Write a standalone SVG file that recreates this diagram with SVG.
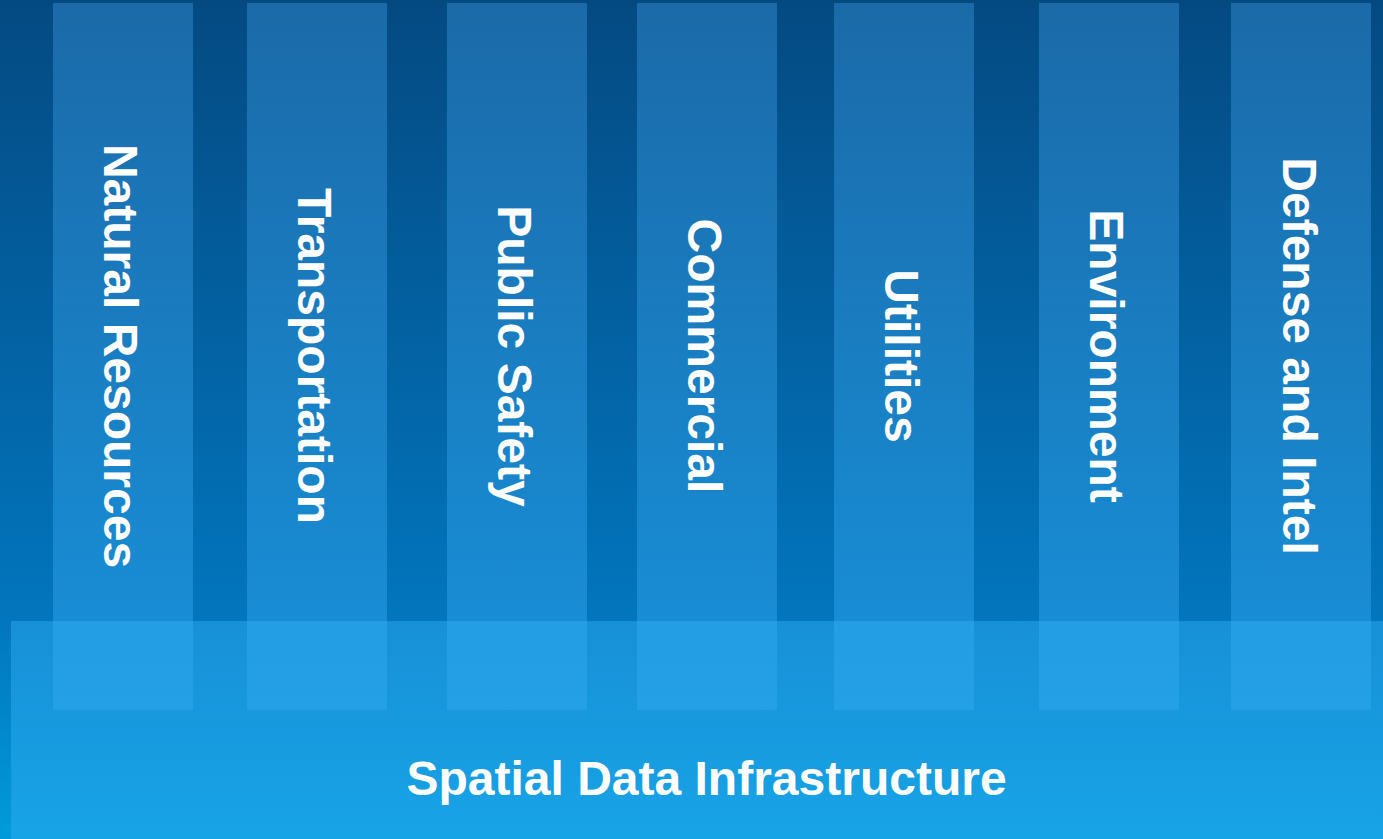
<svg xmlns="http://www.w3.org/2000/svg" width="1383" height="839" viewBox="0 0 1383 839">
<defs>
<linearGradient id="bg" x1="0" y1="0" x2="0" y2="839" gradientUnits="userSpaceOnUse">
<stop offset="0" stop-color="#04487e"/>
<stop offset="0.004" stop-color="#044a82"/>
<stop offset="0.74" stop-color="#0276be"/>
<stop offset="1" stop-color="#009bda"/>
</linearGradient>
<linearGradient id="col" x1="0" y1="3" x2="0" y2="621" gradientUnits="userSpaceOnUse">
<stop offset="0" stop-color="#1b6aa8"/>
<stop offset="1" stop-color="#188dd5"/>
</linearGradient>
<linearGradient id="band" x1="0" y1="621" x2="0" y2="839" gradientUnits="userSpaceOnUse">
<stop offset="0" stop-color="#1890d8"/>
<stop offset="1" stop-color="#17a4e6"/>
</linearGradient>
<linearGradient id="over" x1="0" y1="621" x2="0" y2="710" gradientUnits="userSpaceOnUse">
<stop offset="0" stop-color="#239de4"/>
<stop offset="1" stop-color="#24a0e6"/>
</linearGradient>
</defs>
<style>
.col{fill:url(#col)}
.ov{fill:url(#over)}
.lbl{font-family:"Liberation Sans",Arial,sans-serif;font-weight:bold;font-size:48px;fill:#ffffff;text-anchor:middle}
</style>
<rect x="0" y="0" width="1383" height="839" fill="url(#bg)"/>
<g id="band-sdi">
<rect x="11" y="621" width="1372" height="218" fill="url(#band)"/>
<text class="lbl" x="706.5" y="795">Spatial Data Infrastructure</text>
</g>
<g id="col-natural-resources">
<rect class="col" x="53" y="3" width="140" height="618"/>
<rect class="ov" x="53" y="621" width="140" height="89"/>
<text class="lbl" transform="translate(104,356) rotate(90)">Natural Resources</text>
</g>
<g id="col-transportation">
<rect class="col" x="247" y="3" width="140" height="618"/>
<rect class="ov" x="247" y="621" width="140" height="89"/>
<text class="lbl" transform="translate(298,356) rotate(90)">Transportation</text>
</g>
<g id="col-public-safety">
<rect class="col" x="447" y="3" width="140" height="618"/>
<rect class="ov" x="447" y="621" width="140" height="89"/>
<text class="lbl" transform="translate(498,356) rotate(90)">Public Safety</text>
</g>
<g id="col-commercial">
<rect class="col" x="637" y="3" width="140" height="618"/>
<rect class="ov" x="637" y="621" width="140" height="89"/>
<text class="lbl" transform="translate(688,356) rotate(90)">Commercial</text>
</g>
<g id="col-utilities">
<rect class="col" x="834" y="3" width="140" height="618"/>
<rect class="ov" x="834" y="621" width="140" height="89"/>
<text class="lbl" transform="translate(885,356) rotate(90)">Utilities</text>
</g>
<g id="col-environment">
<rect class="col" x="1039" y="3" width="140" height="618"/>
<rect class="ov" x="1039" y="621" width="140" height="89"/>
<text class="lbl" transform="translate(1090,356) rotate(90)">Environment</text>
</g>
<g id="col-defense-intel">
<rect class="col" x="1231" y="3" width="140" height="618"/>
<rect class="ov" x="1231" y="621" width="140" height="89"/>
<text class="lbl" transform="translate(1283,356) rotate(90)">Defense and Intel</text>
</g>
<g id="connectors"/>
</svg>
